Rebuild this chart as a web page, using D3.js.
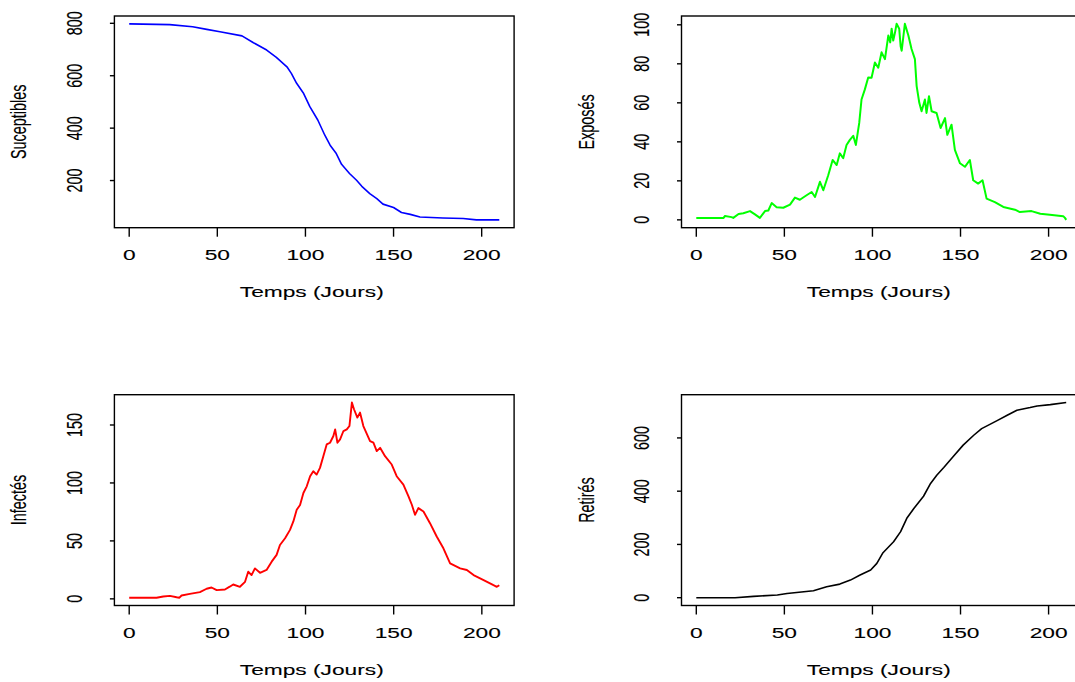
<!DOCTYPE html>
<html>
<head>
  <title>SEIR - Temps (Jours)</title>
<style>

body {
  margin: 0;
  background: #fff;
}

text {
  font-family: 'Liberation Sans', Arial, Helvetica, sans-serif;
  font-size: 14.4px;
  fill: #000;
  stroke: #000;
  stroke-width: 0.1px;
}

</style>
</head>
<body>
<svg width="1075" height="682"></svg>
<script src="https://cdn.jsdelivr.net/npm/d3@7/dist/d3.min.js"></script>
<script>

// -------------------------------------------------------------------------
// DATA
// -------------------------------------------------------------------------
var xTicks = [0, 50, 100, 150, 200];
var xTitle = "Temps (Jours)";

var sDays   = [0, 23, 36, 44, 51.5, 64, 70.5, 78, 83.5, 89.5, 92, 95, 99, 102.5, 107, 111, 114, 117.5, 120.5, 125, 129, 132, 136.5, 140.5, 144, 150, 154.5, 159.5, 165, 178, 189.5, 197, 210];
var sValues = [798, 795, 787, 777, 768, 752, 726, 698, 670, 634, 609, 571, 532, 482, 431, 373, 335, 303, 262, 227, 201, 178, 150, 131, 110, 97, 78, 71, 61, 57, 55, 50, 50];
var sTicks  = [200, 400, 600, 800];

var eDays   = [0, 15.5, 16.3, 20, 21, 24, 26.7, 30.5, 33.3, 36.1, 39, 40.9, 42.8, 45.6, 49.4, 53.2, 56, 58.8, 62.6, 65.5, 67.4, 70.2, 72.1, 74.9, 77.4, 79.7, 81.5, 83.4, 85.3, 87.2, 89.1, 90.6, 92.5, 93.8, 95.7, 97.6, 99.5, 101.4, 103.3, 105.2, 107.1, 109, 110.1, 110.9, 111.8, 112.8, 113.7, 115.2, 116, 116.6, 118.4, 120.4, 122.2, 124.1, 125.1, 126.6, 127.9, 129.8, 130.7, 132.1, 133.6, 136.4, 138.7, 141.2, 142.5, 144.9, 146.8, 149.7, 152.5, 155.3, 157.2, 160, 162.5, 164.8, 169.5, 174.3, 180.9, 183.7, 190.3, 195.3, 200.7, 208.3, 209.3, 210];
var eValues = [1, 1, 2, 1.4, 1, 3, 3.4, 4.5, 2.8, 1, 4.5, 4.8, 8.6, 6.5, 6.2, 7.8, 11.4, 10.3, 12.6, 14.3, 11.7, 19.5, 15.2, 22.9, 30.7, 28.1, 34.1, 31.6, 38.4, 41, 43.1, 38.4, 49.7, 61.7, 66.9, 73, 72.9, 80.7, 78, 85.9, 82.4, 94.5, 91, 98, 91.9, 96, 100.5, 98, 89, 86.7, 100.5, 94.5, 87.6, 82.4, 68.6, 60, 55.7, 61.7, 54.8, 63.4, 55.7, 54.8, 47.1, 52.2, 43.6, 48.8, 35.9, 29, 27.2, 30.7, 20.3, 18.6, 20.3, 10.9, 9.1, 6.6, 5.2, 4, 4.5, 3.1, 2.6, 1.9, 1, 0];
var eTicks  = [0, 20, 40, 60, 80, 100];

var iDays   = [0, 15.5, 19.3, 23.1, 26.9, 28.5, 29.7, 34.4, 40.1, 43.9, 46.7, 49.6, 54.3, 57, 59, 62.8, 65.7, 67.5, 69.4, 71.3, 74.2, 77.9, 80.8, 83.6, 85.5, 88.4, 91.2, 93.1, 95, 96.9, 98.8, 100.7, 102.6, 104.4, 106.3, 108.2, 110.1, 112, 113.9, 115.8, 116.8, 118.1, 119.6, 121.5, 123.4, 124.9, 126.3, 127.5, 129.4, 130.9, 132.8, 136.6, 138.5, 140.4, 142.3, 145.1, 148.9, 151.7, 155.5, 158.4, 160.3, 162.1, 164, 166.9, 170.6, 174.4, 178.2, 182, 187.7, 191.5, 195.3, 201, 206.6, 208.5, 209.9];
var iValues = [1, 1, 2, 2.6, 1.4, 1, 2.9, 4.3, 5.8, 8.7, 9.8, 7.5, 8.1, 10.5, 12.4, 10.4, 14.7, 23.4, 20.5, 26.3, 22.5, 24.9, 32.1, 37.9, 46.5, 52.3, 59.5, 66.8, 76.9, 81, 91.3, 97.1, 105.8, 110.1, 107.2, 113, 123.1, 133.2, 134.7, 140.5, 146.2, 134.7, 137.6, 144.8, 146.2, 149.1, 169.4, 163.6, 156.4, 160.7, 149.1, 136.1, 134.7, 127.5, 130.3, 123.1, 115.9, 105.8, 98.6, 88.4, 81.2, 72.5, 78.3, 75.4, 65.3, 53.8, 43.6, 30.6, 26.3, 24.9, 20.5, 16.2, 11.8, 10.4, 11.8];
var iTicks  = [0, 50, 100, 150];

var rDays   = [0, 22, 32.5, 46, 51.5, 66.5, 74, 81.5, 87.5, 93, 99, 102.5, 106, 112, 116, 119.5, 123.5, 129, 133, 136.5, 140.5, 146, 151.5, 157.5, 162, 170.5, 176.5, 182, 189.5, 193.5, 201, 210];
var rValues = [0, 0, 5, 10, 16, 26, 41, 51, 66, 85, 104, 129, 169, 210, 248, 298, 335, 381, 429, 460, 489, 531, 573, 610, 635, 664, 685, 704, 714, 720, 725, 733];
var rTicks  = [0, 200, 400, 600];

// -------------------------------------------------------------------------
// LAYOUT (the source image is stretched horizontally, text follows that)
// -------------------------------------------------------------------------
var stretch = 1.58;

var panels = [
  { label: "Suceptibles", days: sDays, values: sValues, ticks: sTicks, color: "#0000ff", lw: 1.6,
    left: 114.4, right: 514.1, top: 16, bottom: 227.7 },
  { label: "Exposés", days: eDays, values: eValues, ticks: eTicks, color: "#00ff00", lw: 2,
    left: 681.5, right: 1081, top: 16, bottom: 227.7 },
  { label: "Infectés", days: iDays, values: iValues, ticks: iTicks, color: "#ff0000", lw: 1.9,
    left: 114.4, right: 514.1, top: 394.7, bottom: 605.5 },
  { label: "Retirés", days: rDays, values: rValues, ticks: rTicks, color: "#000000", lw: 1.6,
    left: 681.5, right: 1081, top: 394.7, bottom: 605.5 }
];

var svg = d3.select("svg");

// R style axis range: data range padded by 4% on each side
function padded(lo, hi) {
  var e = (hi - lo) * 0.04;
  return [lo - e, hi + e];
}

panels.forEach(function(p) {
  var g = svg.append("g");

  var x = d3.scaleLinear()
      .domain(padded(0, d3.max(p.days)))
      .range([p.left, p.right]);

  var y = d3.scaleLinear()
      .domain(padded(d3.min(p.values), d3.max(p.values)))
      .range([p.bottom, p.top]);

  var pts = p.days.map(function(d, i) { return [d, p.values[i]]; });

  // the curve
  g.append("path")
      .datum(pts)
      .attr("fill", "none")
      .attr("stroke", p.color)
      .attr("stroke-width", p.lw)
      .attr("stroke-linejoin", "round")
      .attr("d", d3.line()
        .x(function(d) { return x(d[0]); })
        .y(function(d) { return y(d[1]); }));

  // box
  g.append("rect")
      .attr("x", p.left)
      .attr("y", p.top)
      .attr("width", p.right - p.left)
      .attr("height", p.bottom - p.top)
      .attr("fill", "none")
      .attr("stroke", "#000")
      .attr("stroke-width", 1.4);

  // x axis ticks + labels
  var xt = g.append("g").selectAll("g")
      .data(xTicks)
    .enter().append("g");

  xt.append("line")
      .attr("x1", function(d) { return x(d); })
      .attr("x2", function(d) { return x(d); })
      .attr("y1", p.bottom)
      .attr("y2", p.bottom + 9)
      .attr("stroke", "#000")
      .attr("stroke-width", 1.4);

  xt.append("text")
      .attr("text-anchor", "middle")
      .attr("transform", function(d) {
        return "translate(" + x(d) + "," + (p.bottom + 32.5) + ") scale(" + stretch + ",1)";
      })
      .text(function(d) { return d; });

  g.append("text")
      .attr("text-anchor", "middle")
      .attr("transform", "translate(" + ((p.left + p.right) / 2 - 2.5) + "," + (p.bottom + 69) + ") scale(" + stretch + ",1)")
      .text(xTitle);

  // y axis ticks + labels
  var yt = g.append("g").selectAll("g")
      .data(p.ticks)
    .enter().append("g");

  yt.append("line")
      .attr("x1", p.left - 4.5)
      .attr("x2", p.left)
      .attr("y1", function(d) { return y(d); })
      .attr("y2", function(d) { return y(d); })
      .attr("stroke", "#000")
      .attr("stroke-width", 1.4);

  yt.append("text")
      .attr("text-anchor", "middle")
      .attr("transform", function(d) {
        return "translate(" + (p.left - 32.7) + "," + y(d) + ") scale(" + stretch + ",1) rotate(-90)";
      })
      .text(function(d) { return d; });

  g.append("text")
      .attr("text-anchor", "middle")
      .attr("transform", "translate(" + (p.left - 88) + "," + (p.top + p.bottom) / 2 + ") scale(" + stretch + ",1) rotate(-90)")
      .text(p.label);
});

</script>
</body>
</html>
